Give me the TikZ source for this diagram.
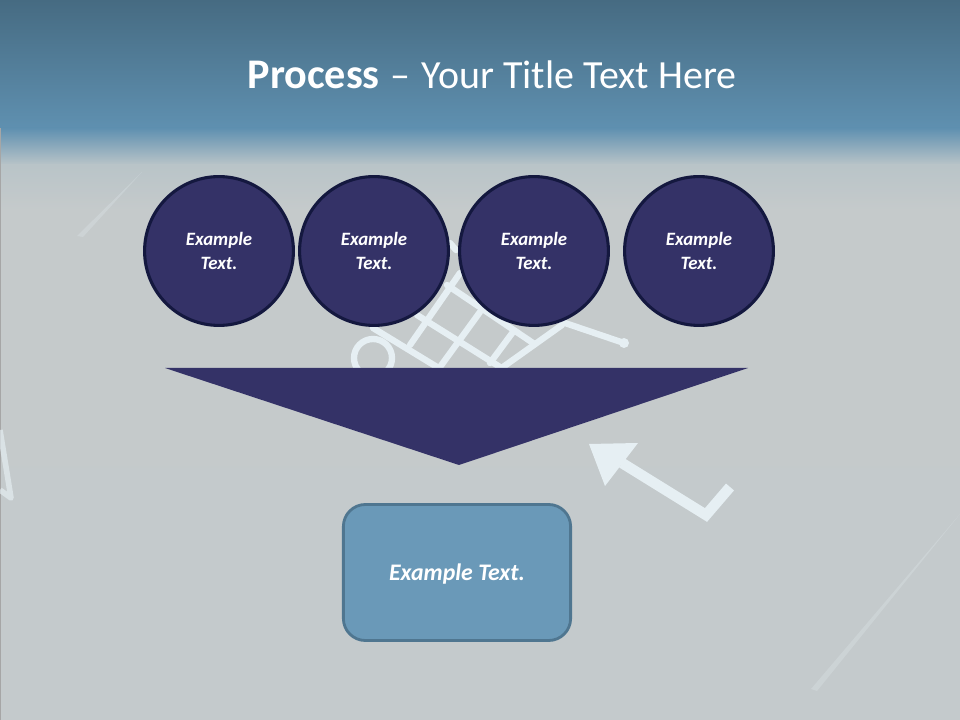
\documentclass[tikz,border=0pt]{standalone}
\usepackage{fontspec}
\setmainfont{Carlito}
\definecolor{bandtop}{HTML}{466B82}
\definecolor{bandlow}{HTML}{5F90B0}
\definecolor{fadelow}{HTML}{B9C4C8}
\definecolor{greyback}{HTML}{C5CACB}
\definecolor{greylow}{HTML}{C4CACC}
\definecolor{cartline}{HTML}{E6EFF3}
\definecolor{darkfill}{HTML}{343267}
\definecolor{darkedge}{HTML}{14183F}
\definecolor{boxfill}{HTML}{6A99B8}
\definecolor{boxedge}{HTML}{4F7690}
\tikzset{
  roundtext/.style={circle,minimum size=3.72cm,inner sep=0pt,fill=darkfill,draw=darkedge,line width=2.2pt,
    text=white,align=center,font=\fontsize{13.4}{16.5}\selectfont\bfseries\itshape},
  cartstroke/.style={draw=cartline,line width=4.5pt}
}
\begin{document}
\begin{tikzpicture}[line cap=round,line join=round,>=stealth,x=0.025cm,y=-0.025cm]
\useasboundingbox (0,0) rectangle (960,720);
\shade [top color=bandtop,bottom color=bandlow] (0,0) rectangle (960,128);
\shade [top color=bandlow,bottom color=fadelow] (0,128) rectangle (960,165);
\shade [top color=fadelow,bottom color=greyback] (0,165) rectangle (960,210);
\shade [top color=greyback,bottom color=greylow] (0,210) rectangle (960,720);
\fill [gray!70] (0,128) rectangle (1.5,720);
\fill [cartline,opacity=0.25] (77,236) -- (142,172) -- (83,237) -- cycle;
\fill [cartline,opacity=0.25] (811,689) -- (960,514) -- (817,691) -- cycle;
\draw [cartline,line width=4pt,opacity=0.65,line cap=butt] (0,430) -- (11,498) -- (0,490);
\draw [cartstroke] (447,285) -- (533,343);
\draw [cartstroke] (417,315) -- (500,367);
\draw [cartstroke] (373,328) -- (437,367);
\draw [cartstroke] (460,273) -- (410,345);
\draw [cartstroke] (480,312) -- (440,367);
\draw [cartstroke] (513,332) -- (490,363);
\draw [cartstroke] (562,325) -- (503,367);
\draw [cartstroke] (450,243) -- (456,250);
\draw [cartstroke] (562,322) -- (624,343);
\fill [cartline] (624,343) circle (5);
\draw [cartstroke] (373,358) circle (19);
\fill [cartline] (589,444) -- (638,443) -- (605,486) -- cycle;
\draw [cartline,line width=7.5pt,line join=miter,line cap=butt] (622,463) -- (706,515) -- (730,487);
\fill [darkfill] (165,368) -- (748,368) -- (459,465) -- cycle;
\node [roundtext] (first) at (219,251) {Example\\Text.};
\node [roundtext] (second) at (374,251) {Example\\Text.};
\node [roundtext] (third) at (534,251) {Example\\Text.};
\node [roundtext] (fourth) at (699,251) {Example\\Text.};
\node [draw=boxedge,line width=2pt,fill=boxfill,rounded corners=0.55cm,minimum width=5.68cm,minimum height=3.4cm,
  text height=14pt,text depth=3pt,text=white,font=\fontsize{16.9}{20}\selectfont\bfseries\itshape] (result) at (457,572.5) {Example Text.};
\node [text=white,font=\fontsize{28.4}{33}\selectfont] (title) at (492,75) {{\fontsize{30}{33}\selectfont\textbf{Process}}\kern1.5pt{} -- \kern1.5pt{}Your Title Text Here};
\end{tikzpicture}
\end{document}
